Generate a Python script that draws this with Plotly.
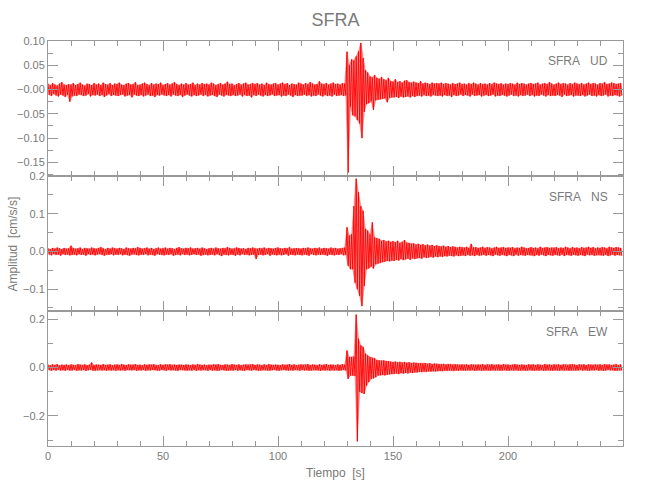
import numpy as np
import plotly.graph_objects as go
from plotly.subplots import make_subplots

# ---------------- data (envelope per 1-s bin, in units of 0.001 cm/s/s) ----------------
ud_hi = [12,9,13,10,8,12,15,10,9,11, 10,13,9,11,14,10,8,12,11,9, 13,10,12,9,14,11,10,13,9,12,
         11,14,10,9,12,13,10,11,15,9, 10,12,14,11,9,13,10,12,11,14, 9,11,13,10,12,15,11,9,12,10,
         13,10,11,14,9,12,10,13,11,12, 10,14,12,9,11,13,10,12,16,11, 12,9,11,13,10,12,14,10,11,13,
         11,13,10,12,9,14,11,10,12,13, 10,12,14,11,13,9,12,11,10,14, 12,10,13,11,15,12,10,11,17,12,
         11,13,10,12,14,11,12,10,13,12, 78,50,62,60,68,79,96,65,40,35, 27,25,30,24,22,26,21,19,24,17,
         16,21,15,17,14,18,19,15,14,16, 14,13,17,12,14,13,11,14,12,13, 12,14,11,13,12,10,13,11,12,14,
         11,12,10,13,11,14,12,10,13,11, 12,10,13,11,14,12,11,13,10,12, 11,13,12,10,14,11,13,12,10,12,
         13,11,12,14,10,12,13,11,15,12, 10,12,14,11,13,12,10,13,11,14, 12,11,13,10,12,14,11,13,12,10,
         13,12,15,11,12,14,13,11,12,13]
ud_lo = [-11,-13,-9,-12,-14,-10,-12,-15,-11,-25, -14,-12,-13,-10,-11,-13,-12,-9,-14,-11,
         -12,-10,-13,-11,-15,-12,-9,-13,-11,-12, -13,-11,-10,-14,-12,-11,-16,-10,-12,-13,
         -11,-14,-12,-10,-13,-12,-15,-11,-12,-10, -12,-13,-11,-14,-10,-12,-13,-11,-15,-12,
         -10,-12,-14,-11,-13,-12,-10,-13,-11,-14, -12,-11,-13,-15,-10,-12,-14,-11,-12,-13,
         -11,-13,-12,-10,-14,-11,-13,-12,-16,-11, -13,-10,-12,-14,-11,-13,-12,-10,-13,-12,
         -11,-14,-12,-13,-10,-12,-15,-11,-13,-12, -12,-10,-13,-11,-14,-12,-13,-10,-12,-14,
         -11,-13,-12,-14,-10,-13,-12,-11,-13,-12, -171,-35,-53,-55,-63,-70,-100,-46,-30,-28,
         -24,-42,-22,-21,-20,-19,-18,-26,-17,-16, -16,-15,-17,-14,-16,-15,-14,-16,-13,-15,
         -13,-12,-14,-11,-13,-12,-14,-11,-12,-13, -12,-14,-11,-13,-12,-15,-11,-13,-12,-10,
         -13,-11,-12,-14,-10,-13,-12,-11,-14,-12, -11,-13,-12,-10,-14,-12,-13,-11,-12,-14,
         -12,-10,-13,-12,-14,-11,-13,-12,-10,-13, -11,-14,-12,-13,-10,-12,-14,-11,-13,-12,
         -13,-11,-12,-15,-10,-13,-12,-11,-14,-12, -12,-13,-11,-14,-12,-10,-13,-12,-14,-11,
         -13,-12,-10,-14,-12,-13,-11,-12,-14,-12]

ns_hi = [8,6,9,7,10,8,6,9,7,8, 15,9,7,8,10,6,9,8,7,10, 8,7,9,11,8,6,9,7,10,8,
         7,9,8,6,10,8,7,9,8,11, 9,7,8,10,7,9,6,8,10,7, 8,10,7,9,8,6,9,11,8,7,
         9,8,10,7,8,9,7,10,8,6, 8,9,7,10,8,7,9,8,11,9, 7,8,10,9,7,8,6,9,8,10,
         8,7,9,8,10,7,9,8,7,9, 10,8,7,9,8,11,7,8,9,8, 7,9,8,10,8,7,9,8,10,7,
         9,8,7,10,8,9,7,8,9,10, 64,42,45,120,193,157,120,108,60,55, 45,77,37,35,33,28,30,26,28,25,
         27,24,28,22,25,30,23,22,20,21, 18,20,17,19,16,18,15,17,14,16, 14,13,15,12,14,11,13,12,10,12,
         11,10,12,9,20,10,11,9,10,12, 9,11,10,8,10,12,9,10,11,9, 10,9,11,8,10,9,12,10,8,9,
         11,9,10,8,12,9,10,11,9,10, 9,11,8,10,9,12,10,8,11,9, 10,8,11,9,10,12,9,11,8,10,
         9,11,10,8,12,10,9,11,10,9]
ns_lo = [-8,-10,-7,-9,-8,-11,-7,-9,-8,-10, -9,-8,-10,-7,-9,-8,-11,-7,-9,-8,
         -10,-8,-7,-9,-11,-8,-9,-7,-10,-8, -9,-7,-10,-8,-9,-11,-8,-7,-9,-10,
         -8,-9,-7,-10,-8,-9,-11,-7,-8,-9, -10,-8,-9,-7,-11,-9,-8,-10,-7,-9,
         -8,-10,-9,-7,-9,-8,-11,-9,-8,-10, -9,-8,-10,-7,-9,-12,-8,-9,-10,-8,
         -9,-11,-8,-10,-7,-9,-8,-10,-9,-8, -20,-9,-8,-10,-9,-7,-11,-8,-9,-10,
         -8,-10,-9,-7,-11,-8,-9,-10,-8,-9, -10,-8,-9,-11,-7,-9,-10,-8,-9,-8,
         -9,-11,-8,-9,-10,-8,-9,-7,-10,-9, -38,-47,-47,-83,-100,-118,-145,-92,-47,-45,
         -40,-45,-34,-32,-30,-28,-27,-25,-26,-24, -25,-22,-24,-20,-23,-21,-19,-22,-18,-20,
         -18,-17,-19,-15,-17,-16,-14,-16,-13,-15, -13,-14,-12,-13,-11,-12,-13,-10,-12,-11,
         -10,-12,-9,-11,-10,-12,-9,-11,-10,-9, -11,-9,-10,-12,-8,-10,-11,-9,-10,-12,
         -9,-10,-12,-8,-11,-9,-10,-11,-9,-10, -10,-12,-9,-11,-8,-10,-12,-9,-10,-11,
         -9,-10,-11,-8,-12,-9,-10,-11,-9,-10, -11,-9,-10,-12,-8,-10,-9,-11,-10,-9,
         -10,-11,-9,-12,-10,-8,-11,-9,-10,-11]

ew_hi = [11,9,12,10,13,8,11,10,12,9, 12,10,9,13,11,10,12,9,11,20, 10,12,11,9,13,10,11,12,9,11,
         12,10,13,11,9,12,10,11,13,10, 11,9,12,10,12,11,13,9,10,12, 10,12,11,13,9,11,10,12,11,10,
         12,11,9,12,10,13,11,10,12,9, 11,10,12,11,13,10,9,12,11,10, 13,11,10,12,9,11,12,10,11,13,
         10,12,11,9,12,10,13,11,10,12, 11,9,12,10,11,13,10,12,9,11, 12,10,11,13,10,12,11,9,12,10,
         11,13,10,12,11,9,12,10,13,11, 70,43,43,45,218,119,91,85,57,50, 43,40,38,30,29,28,30,27,26,24,
         22,24,21,23,20,22,19,21,18,20, 19,17,18,16,18,15,17,14,16,15, 14,13,15,12,14,13,11,13,12,11,
         12,11,13,10,12,11,10,12,11,13, 10,12,11,13,10,11,12,10,13,11, 12,10,11,13,11,10,12,11,10,12,
         11,13,10,12,11,10,13,11,12,10, 12,11,13,10,12,11,10,12,13,11, 10,12,11,13,10,12,11,10,12,11,
         12,10,13,11,12,10,11,13,10,12]
ew_lo = [-11,-13,-10,-12,-9,-12,-11,-13,-10,-12, -12,-10,-13,-11,-12,-10,-13,-11,-9,-12,
         -13,-11,-10,-12,-11,-13,-10,-12,-11,-13, -10,-12,-11,-13,-10,-11,-12,-10,-13,-11,
         -12,-10,-13,-11,-12,-10,-11,-13,-12,-10, -11,-13,-10,-12,-11,-12,-13,-10,-11,-12,
         -13,-11,-12,-10,-13,-11,-12,-10,-11,-13, -10,-12,-11,-13,-12,-10,-11,-13,-12,-11,
         -12,-10,-13,-11,-12,-13,-10,-11,-12,-10, -11,-13,-12,-10,-11,-12,-13,-11,-10,-12,
         -13,-11,-10,-12,-13,-11,-12,-10,-11,-13, -10,-12,-11,-13,-12,-10,-11,-12,-13,-11,
         -12,-11,-13,-10,-12,-11,-13,-12,-10,-12, -47,-33,-33,-35,-305,-100,-105,-109,-75,-60,
         -47,-45,-40,-33,-32,-31,-33,-30,-28,-27, -26,-24,-27,-23,-25,-22,-24,-21,-23,-20,
         -20,-18,-19,-17,-18,-16,-17,-15,-16,-15, -14,-15,-13,-14,-12,-13,-14,-12,-13,-11,
         -12,-13,-11,-12,-10,-13,-12,-11,-13,-12, -11,-12,-13,-10,-12,-11,-13,-12,-10,-12,
         -13,-11,-12,-10,-13,-12,-11,-13,-12,-10, -12,-13,-11,-12,-10,-13,-12,-11,-12,-13,
         -11,-12,-13,-10,-12,-11,-13,-12,-11,-12, -12,-10,-13,-11,-12,-13,-11,-12,-10,-13,
         -11,-13,-12,-10,-12,-11,-13,-12,-11,-12]

components = ["UD", "NS", "EW"]
station = "SFRA"

x_tickvals = [0, 50, 100, 150, 200]
x_ticktext = ["0", "50", "100", "150", "200"]

ud_tickvals = [0.10, 0.05, 0.0, -0.05, -0.10, -0.15]
ud_ticktext = ["0.10", "0.05", "\u22120.00", "\u22120.05", "\u22120.10", "\u22120.15"]
ns_tickvals = [0.2, 0.1, 0.0, -0.1]
ns_ticktext = ["0.2", "0.1", "0.0", "\u22120.1"]
ew_tickvals = [0.2, 0.0, -0.2]
ew_ticktext = ["0.2", "0.0", "\u22120.2"]

# ---------------- figure ----------------
FONT = "Liberation Sans Narrow, Arial Narrow, Liberation Sans, Arial, sans-serif"
TXT = "#7a7a7a"
AX = "#999999"


def envelope_xy(hi, lo):
    t = np.arange(len(hi), dtype=float)
    up_x, up_y = t, np.array(hi) / 1000.0
    dn_x, dn_y = (t + 0.5)[::-1], (np.array(lo) / 1000.0)[::-1]
    return np.concatenate([up_x, dn_x]), np.concatenate([up_y, dn_y])


def zigzag_xy(hi, lo):
    t = np.arange(len(hi), dtype=float)
    xs = np.column_stack([t, t + 0.5]).ravel()
    ys = np.column_stack([np.array(hi), np.array(lo)]).ravel() / 1000.0
    return xs, ys


fig = make_subplots(rows=3, cols=1, shared_xaxes=True, vertical_spacing=0)

for r, (hi, lo) in enumerate([(ud_hi, ud_lo), (ns_hi, ns_lo), (ew_hi, ew_lo)], start=1):
    ex, ey = envelope_xy(hi, lo)
    fig.add_trace(go.Scatter(x=ex, y=ey, mode="lines", fill="toself",
                             fillcolor="rgba(255,70,70,0.55)",
                             line=dict(color="rgba(255,0,0,0.6)", width=0.5),
                             showlegend=False, hoverinfo="skip"), row=r, col=1)
    zx, zy = zigzag_xy(hi, lo)
    fig.add_trace(go.Scatter(x=zx, y=zy, mode="lines",
                             line=dict(color="#ff0000", width=0.9),
                             showlegend=False, hoverinfo="skip"), row=r, col=1)

common_ax = dict(showline=True, linecolor=AX, linewidth=1, mirror="allticks",
                 ticks="inside", ticklen=10, tickcolor=AX, tickwidth=1,
                 showgrid=False, zeroline=False,
                 tickfont=dict(family=FONT, size=11, color=TXT))

for r in (1, 2, 3):
    fig.update_xaxes(range=[0, 250], tickvals=x_tickvals, ticktext=x_ticktext,
                     minor=dict(ticks="inside", ticklen=5, tickcolor=AX, dtick=10, tick0=0, showgrid=False),
                     showticklabels=(r == 3), row=r, col=1, **common_ax)

fig.update_yaxes(range=[-0.178, 0.10], tickvals=ud_tickvals, ticktext=ud_ticktext,
                 minor=dict(ticks="inside", ticklen=5, tickcolor=AX, dtick=0.025, tick0=0, showgrid=False),
                 row=1, col=1, **common_ax)
fig.update_yaxes(range=[-0.158, 0.20], tickvals=ns_tickvals, ticktext=ns_ticktext,
                 minor=dict(ticks="inside", ticklen=5, tickcolor=AX, dtick=0.05, tick0=0, showgrid=False),
                 row=2, col=1, **common_ax)
fig.update_yaxes(range=[-0.324, 0.233], tickvals=ew_tickvals, ticktext=ew_ticktext,
                 minor=dict(ticks="inside", ticklen=5, tickcolor=AX, dtick=0.1, tick0=0, showgrid=False),
                 row=3, col=1, **common_ax)

annots = []
for comp, ypos in zip(components, [0.950, 0.614, 0.282]):
    annots.append(dict(text=station + "\u00a0\u00a0\u00a0" + comp, xref="paper", yref="paper",
                       x=0.977, y=ypos, xanchor="right", yanchor="middle", showarrow=False,
                       font=dict(family=FONT, size=12, color=TXT)))
annots.append(dict(text="Amplitud\u00a0\u00a0[cm/s/s]", xref="paper", yref="paper",
                   x=-0.061, y=0.5, textangle=-90, xanchor="center", yanchor="middle",
                   showarrow=False, font=dict(family=FONT, size=12, color=TXT)))
annots.append(dict(text="Tiempo\u00a0\u00a0[s]", xref="paper", yref="paper",
                   x=0.5, y=-0.067, xanchor="center", yanchor="middle",
                   showarrow=False, font=dict(family=FONT, size=12, color=TXT)))

fig.update_layout(
    width=650, height=500,
    margin=dict(l=48, r=27, t=41, b=54),
    paper_bgcolor="white", plot_bgcolor="white",
    title=dict(text=station, x=0.516, y=0.96, xanchor="center", yanchor="middle",
               font=dict(family=FONT, size=18, color=TXT)),
    annotations=annots,
)

fig.write_html("out.html", config={"displayModeBar": False},
               post_script="document.body.style.margin='0px';")
